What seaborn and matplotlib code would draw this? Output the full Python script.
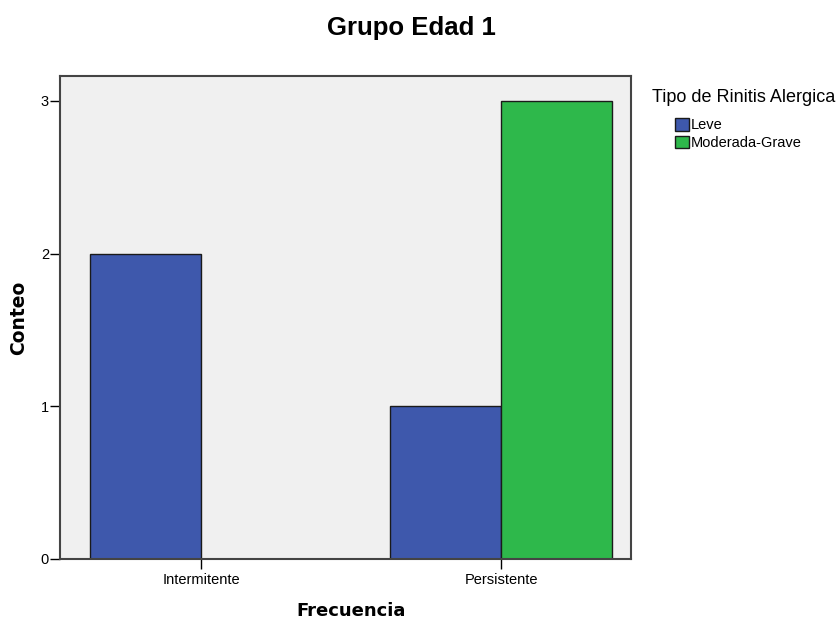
import pandas as pd
import seaborn as sns
import matplotlib.pyplot as plt

# Datos
frecuencia = ["Intermitente", "Persistente"]
tipos = ["Leve", "Moderada-Grave"]
conteo_leve = [2, 1]
conteo_moderada = [0, 3]
colores = ["#3E58AC", "#2EB84B"]

df = pd.DataFrame({
    "Frecuencia": frecuencia * 2,
    "Tipo": [tipos[0]] * 2 + [tipos[1]] * 2,
    "Conteo": conteo_leve + conteo_moderada,
})

sns.set_style("ticks")
plt.rcParams['font.family'] = ['Liberation Sans', 'DejaVu Sans']
plt.rcParams['text.color'] = 'black'
plt.rcParams['axes.labelcolor'] = 'black'
plt.rcParams['xtick.color'] = 'black'
plt.rcParams['ytick.color'] = 'black'

fig = plt.figure(figsize=(8.39, 6.22), dpi=100)
ax = fig.add_axes([0.0715, 0.1013, 0.6805, 0.7767])
ax.set_facecolor("#F0F0F0")

sns.barplot(data=df, x="Frecuencia", y="Conteo", hue="Tipo", order=frecuencia,
            hue_order=tipos, palette=colores, width=0.74, edgecolor="#1a1a1a",
            linewidth=1.0, saturation=1, ax=ax)

ax.set_xlim(-0.47, 1.433)
ax.set_ylim(0, 3.164)
ax.set_yticks([0, 1, 2, 3])
ax.tick_params(axis="both", labelsize=10.5, length=7, width=1.0)
ax.tick_params(axis="y", pad=1)
ax.tick_params(axis="x", pad=3)

for s in ax.spines.values():
    s.set_color("#444444")
    s.set_linewidth(1.5)

ax.set_xlabel("Frecuencia", fontsize=13, fontweight="bold", family="DejaVu Sans")
ax.set_ylabel("Conteo", fontsize=13.5, fontweight="bold", family="DejaVu Sans")
ax.xaxis.set_label_coords(0.51, -0.088)
ax.yaxis.set_label_coords(-0.056, 0.5)
fig.text(0.4905, 0.955, "Grupo Edad 1", fontsize=18.5, fontweight="bold",
         ha="center", va="center")

# Leyenda
fig.text(652 / 839, 1 - 98 / 622, "Tipo de Rinitis Alergica", fontsize=13,
         ha="left", va="center")
leg = ax.legend(loc="upper left", bbox_to_anchor=(675 / 839, 1 - 118 / 622),
                bbox_transform=fig.transFigure, frameon=False, fontsize=10.5,
                handlelength=0.95, handleheight=0.95, handletextpad=0.15,
                labelspacing=0.23, borderaxespad=0, borderpad=0)
for h in leg.legend_handles:
    h.set_edgecolor("#1a1a1a")

plt.savefig("out.png", dpi=100)
